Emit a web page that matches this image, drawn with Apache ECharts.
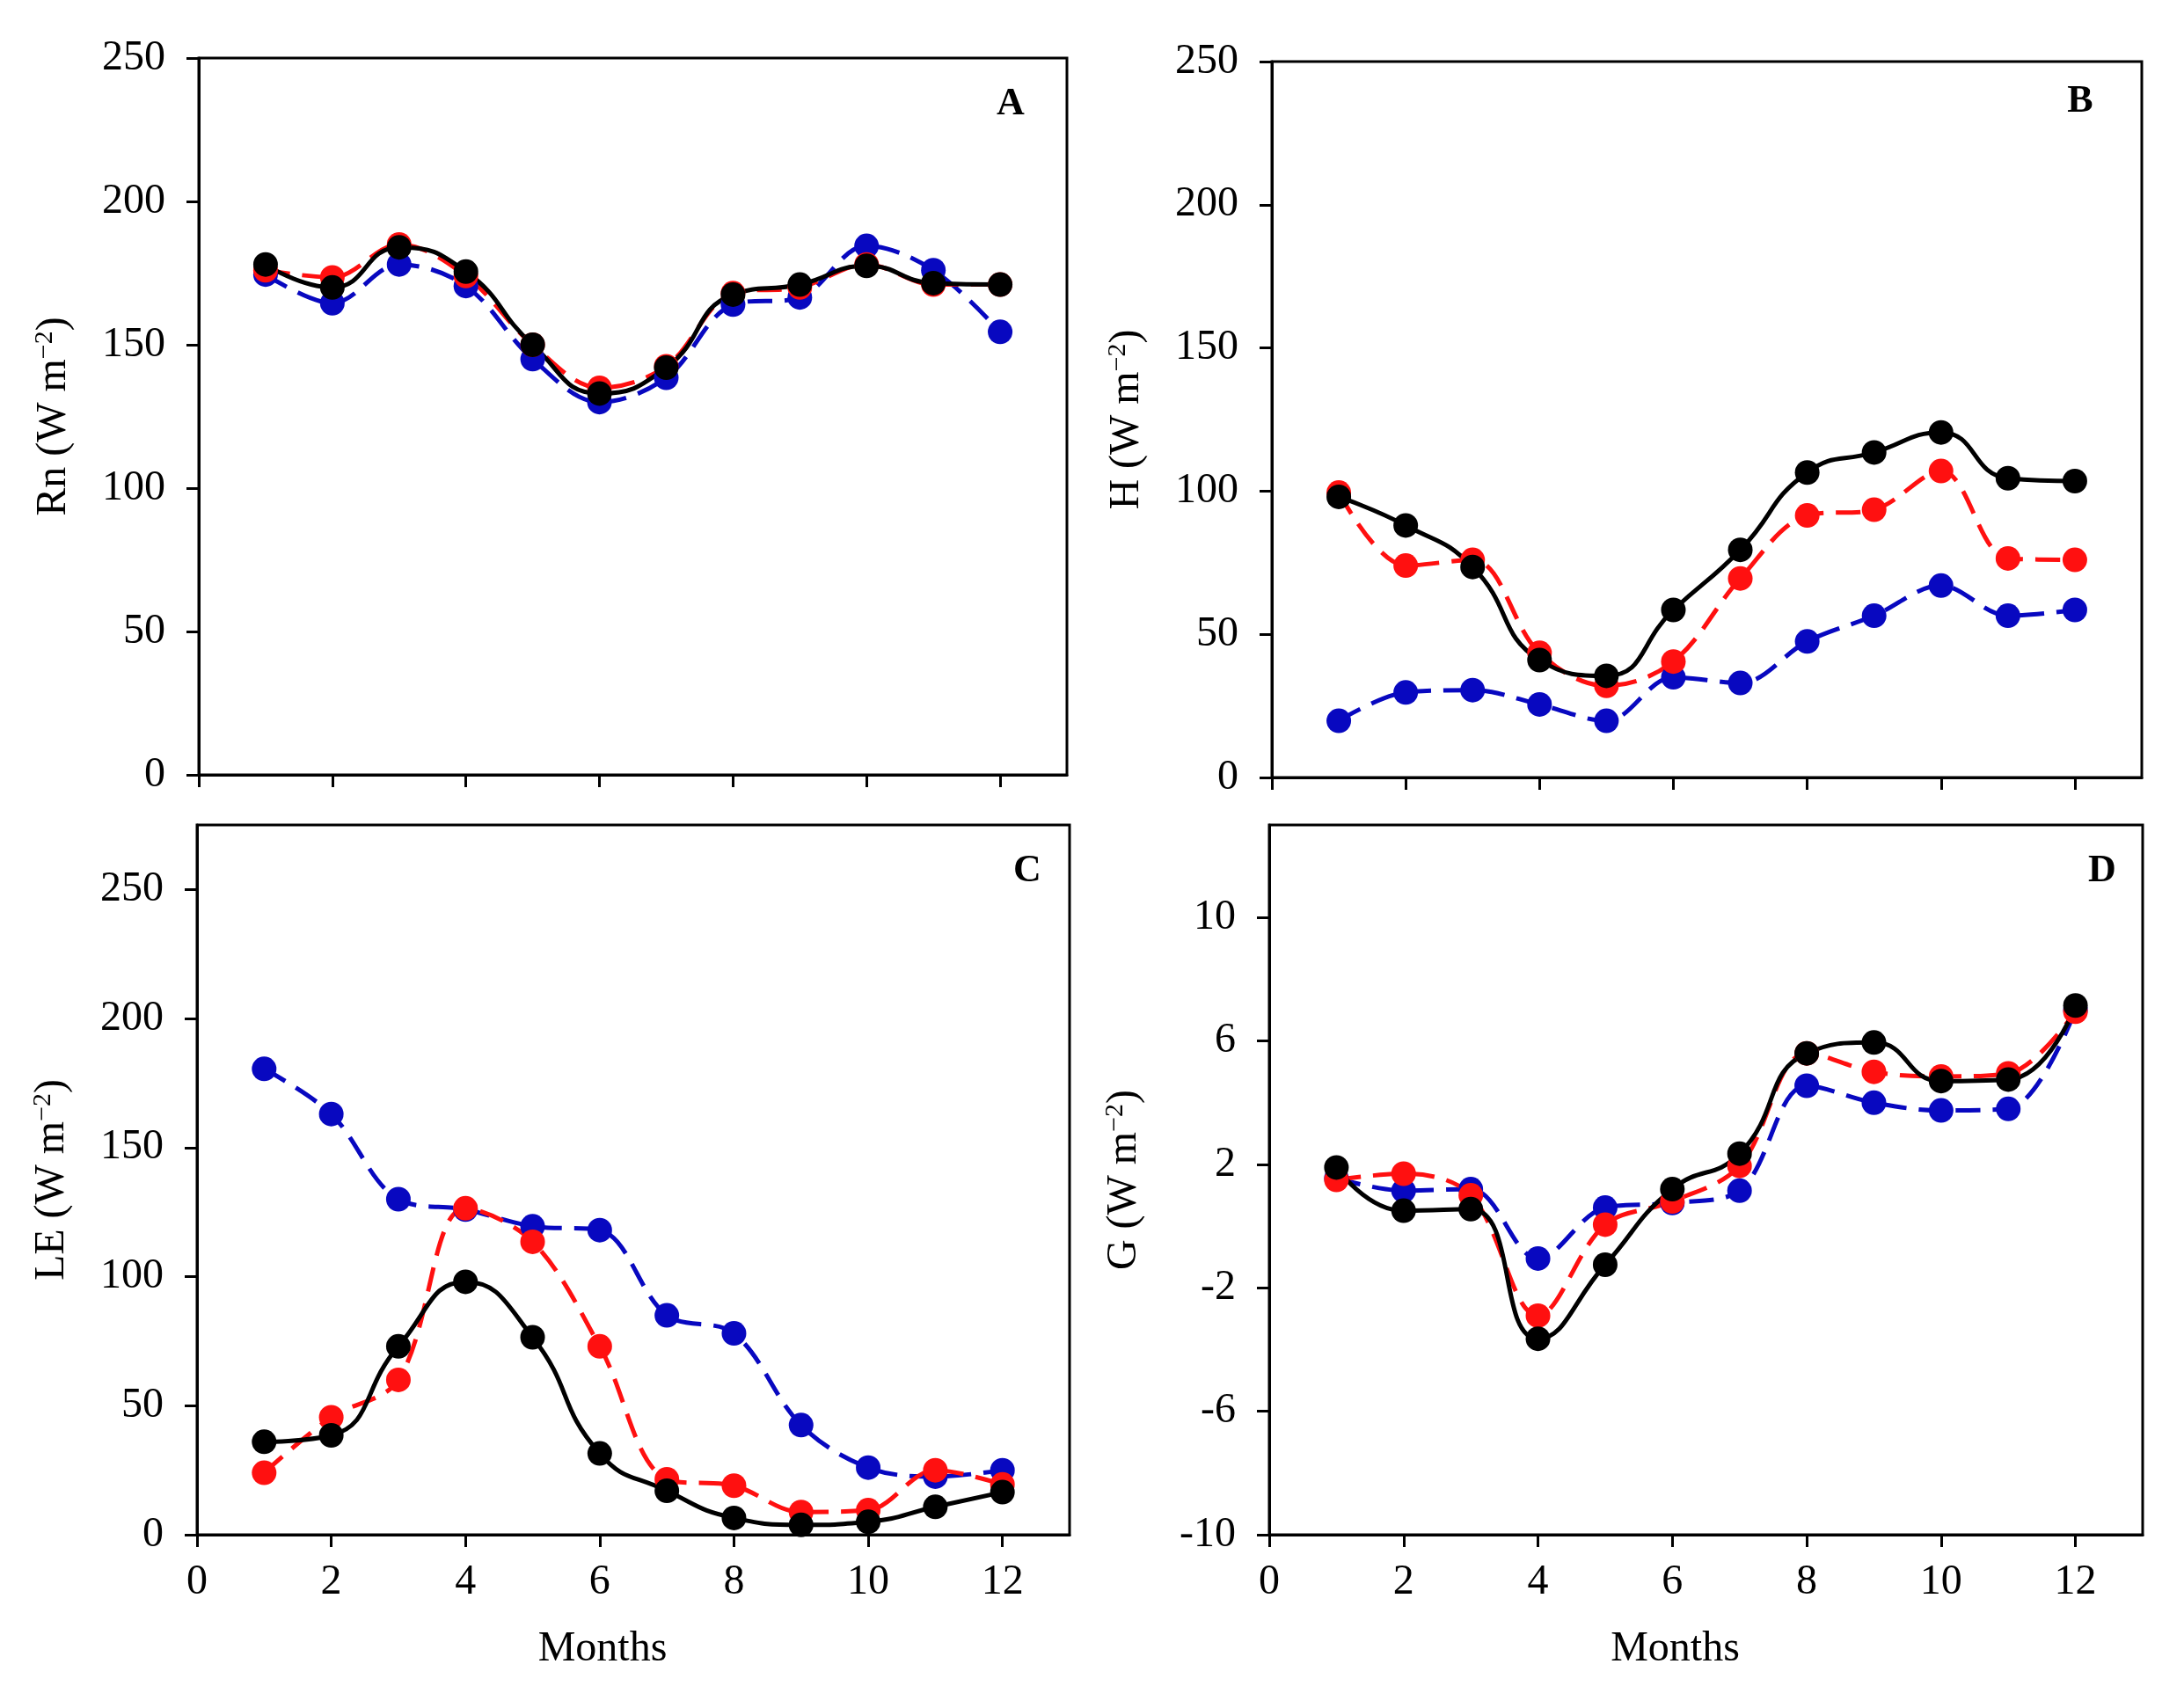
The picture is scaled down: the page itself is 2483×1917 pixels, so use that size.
<!DOCTYPE html>
<html>
<head>
<meta charset="utf-8">
<script src="https://cdn.jsdelivr.net/npm/echarts@6/dist/echarts.min.js"></script>
<style>
  html, body { margin: 0; padding: 0; background: #fff; }
  #chart { width: 2483px; height: 1917px; }
</style>
</head>
<body>
<div id="chart"></div>
<script>
// === DONNEES ===
const months = [1, 2, 3, 4, 5, 6, 7, 8, 9, 10, 11, 12];
const xTicks = [0, 2, 4, 6, 8, 10, 12];
const fluxTicks = [0, 50, 100, 150, 200, 250];
const gTicks = [-10, -6, -2, 2, 6, 10];

// A : Rn
const rnBlack = [178, 170, 184, 175.5, 150, 133, 142, 167.5, 171, 177.5, 171.5, 171];
const rnRed   = [176, 173.5, 185, 174, 150, 135, 142.5, 168, 170, 178, 171, 171];
const rnBlue  = [174.5, 164.5, 178, 170.5, 145, 130, 138.5, 164, 166.5, 184.5, 176, 154.5];

// B : H
const hBlack = [98, 88, 73.5, 41, 35.5, 58.5, 79.5, 106.5, 113.5, 120.5, 104.5, 103.5];
const hRed   = [99.5, 74, 76, 43.5, 32, 40.5, 69.5, 91.5, 93.5, 107, 76.5, 76];
const hBlue  = [19.8, 29.7, 30.5, 25.5, 19.8, 35, 33, 47.5, 56.5, 67, 56.5, 58.5];

// C : LE
const leBlack = [36, 38.5, 73, 98, 76.5, 31.5, 17, 6.5, 3.8, 5, 10.8, 16.5];
const leRed   = [24, 45.5, 60, 126.5, 113.5, 73, 21.5, 19, 8.8, 9.5, 25, 19.5];
const leBlue  = [180.5, 163, 130, 126, 119.5, 118, 85, 78, 42.5, 26, 22.5, 25];

// D : G
const gBlack = [1.9, 0.5, 0.55, -3.65, -1.25, 1.2, 2.35, 5.6, 5.95, 4.7, 4.75, 7.15];
const gRed   = [1.5, 1.7, 1.0, -2.9, 0.05, 0.8, 1.95, 5.6, 5.0, 4.85, 4.95, 6.95];
const gBlue  = [1.55, 1.15, 1.2, -1.05, 0.6, 0.75, 1.15, 4.55, 4.0, 3.75, 3.8, 7.0];

const FONT = "Liberation Serif";
const BLACK = "#000000";
const RED = "#ff1010";
const BLUE = "#0808c0";

function pairs(vals) {
    return months.map((m, i) => [m, vals[i]]);
}

function makeSeries(idx, vals, color, dashed) {
    return {
        type: "line",
        xAxisIndex: idx,
        yAxisIndex: idx,
        data: pairs(vals),
        smooth: dashed ? 0.35 : 0.5,
        symbol: "circle",
        symbolSize: 28,
        itemStyle: { color: color },
        lineStyle: { color: color, width: 5, type: dashed ? [28, 14] : "solid" },
        silent: true,
        animation: false
    };
}

function xAxis(idx, withLabels) {
    return {
        type: "value",
        gridIndex: idx,
        min: 0,
        max: 13,
        axisLine: { show: true, onZero: false, lineStyle: { color: "#000", width: 3 } },
        axisTick: { show: true, inside: false, length: 14, customValues: xTicks, lineStyle: { color: "#000", width: 3 } },
        axisLabel: { show: withLabels, customValues: xTicks, margin: 30, fontFamily: FONT, fontSize: 48, color: "#000" },
        splitLine: { show: false },
        name: withLabels ? "Months" : "",
        nameLocation: "middle",
        nameGap: 106,
        nameTextStyle: { fontFamily: FONT, fontSize: 48, color: "#000", padding: [0, 70, 0, 0] }
    };
}

function yAxis(idx, min, max, ticks, label) {
    return {
        type: "value",
        gridIndex: idx,
        min: min,
        max: max,
        axisLine: { show: true, onZero: false, lineStyle: { color: "#000", width: 3 } },
        axisTick: { show: true, inside: false, length: 14, customValues: ticks, lineStyle: { color: "#000", width: 3 } },
        axisLabel: { customValues: ticks, margin: 38, fontFamily: FONT, fontSize: 48, color: "#000" },
        splitLine: { show: false },
        name: "{a|" + label + " (W m}{s|−2}{a|)}",
        nameLocation: "middle",
        nameGap: 140,
        nameTextStyle: {
            rich: {
                a: { fontFamily: FONT, fontSize: 48, color: "#000" },
                s: { fontFamily: FONT, fontSize: 30, color: "#000", verticalAlign: "top", padding: [0, 0, 20, 0] }
            }
        }
    };
}

function panelLetter(txt, x, y) {
    return {
        type: "text",
        x: x,
        y: y,
        style: { text: txt, fontFamily: FONT, fontWeight: "bold", fontSize: 44, fill: "#000", textAlign: "center", textVerticalAlign: "middle" }
    };
}

const gridStyle = { show: true, borderColor: "#000", borderWidth: 3, backgroundColor: "transparent" };

const chart = echarts.init(document.getElementById("chart"));
const option = {
    backgroundColor: "#fff",
    animation: false,
    grid: [
        Object.assign({ left: 226, top: 66, width: 987, height: 815 }, gridStyle),
        Object.assign({ left: 1446, top: 70, width: 989, height: 814 }, gridStyle),
        Object.assign({ left: 224, top: 938, width: 992, height: 807 }, gridStyle),
        Object.assign({ left: 1443, top: 938, width: 993, height: 807 }, gridStyle)
    ],
    xAxis: [xAxis(0, false), xAxis(1, false), xAxis(2, true), xAxis(3, true)],
    yAxis: [
        yAxis(0, 0, 250, fluxTicks, "Rn"),
        yAxis(1, 0, 250, fluxTicks, "H"),
        yAxis(2, 0, 275, fluxTicks, "LE"),
        yAxis(3, -10, 13, gTicks, "G")
    ],
    series: [
        makeSeries(0, rnBlue, BLUE, true),
        makeSeries(0, rnRed, RED, true),
        makeSeries(0, rnBlack, BLACK, false),
        makeSeries(1, hBlue, BLUE, true),
        makeSeries(1, hRed, RED, true),
        makeSeries(1, hBlack, BLACK, false),
        makeSeries(2, leBlue, BLUE, true),
        makeSeries(2, leRed, RED, true),
        makeSeries(2, leBlack, BLACK, false),
        makeSeries(3, gBlue, BLUE, true),
        makeSeries(3, gRed, RED, true),
        makeSeries(3, gBlack, BLACK, false)
    ],
    graphic: [
        panelLetter("A", 1149, 119),
        panelLetter("B", 2365, 116),
        panelLetter("C", 1168, 991),
        panelLetter("D", 2390, 991)
    ]
};
chart.setOption(option);
window.addEventListener("resize", () => chart.resize());
</script>
</body>
</html>
